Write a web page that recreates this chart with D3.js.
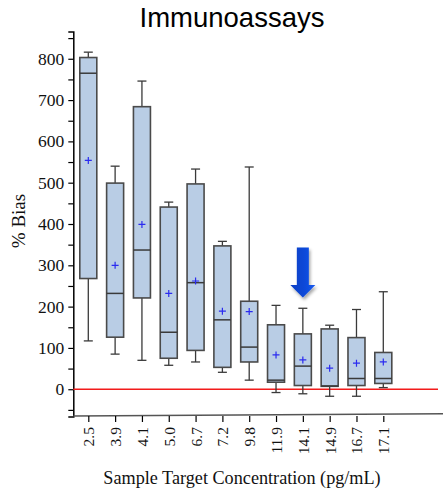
<!DOCTYPE html>
<html>
<head>
<meta charset="utf-8">
<script src="https://cdn.jsdelivr.net/npm/d3@7"></script>
<style>
  html, body { margin: 0; padding: 0; background: #fff; }
  svg { display: block; }
  .serif text, text.serif { font-family: "Liberation Serif", "Times New Roman", serif; }
</style>
</head>
<body>
<svg id="chart" width="443" height="494"></svg>
<script>
// Sample target concentrations (pg/mL), one box per concentration
const categories = ["2.5", "3.9", "4.1", "5.0", "6.7", "7.2", "9.8", "11.9", "14.1", "14.9", "16.7", "17.1"];
// % bias summaries per concentration
const whiskerLow  = [117,  85,  70,  58,  66,  41,  22,  -8, -11, -17, -17,   4];
const boxLow      = [268, 126, 221,  75,  94,  53,  66,  17,   9,   7,   9,  14];
const medians     = [765, 232, 337, 138, 258, 168, 102,  22,  56,   8,  26,  26];
const boxHigh     = [803, 499, 684, 441, 497, 347, 213, 156, 134, 146, 125,  89];
const whiskerHigh = [816, 540, 746, 453, 533, 358, 538, 203, 196, 155, 193, 236];
const means       = [554, 300, 399, 232, 262, 189, 188,  83,  71,  51,  63,  66];
// y axis ticks: minor every 50, labelled every 100
const yTicks = d3.range(-50, 851, 50);
const yLabels = d3.range(0, 801, 100);
// Highlighted concentration and the span of the pointer above it
const highlight = "14.1";
const pointerSpan = [343, 222];

const svg = d3.select("#chart");

const x = d3.scalePoint().domain(categories).range([88.3, 383.3]);
const y = d3.scaleLinear().domain([-66, 866]).range([416.5, 31.5]);

const plotLeft = 73.3, plotRight = 443;
const boxW = 17, capW = 9;
const serifFont = "Liberation Serif, Times New Roman, serif";

// Title
svg.append("text")
  .attr("x", 232).attr("y", 27)
  .attr("text-anchor", "middle")
  .attr("font-family", "Liberation Sans, Arial, sans-serif")
  .attr("font-size", 27.5)
  .attr("fill", "#000")
  .text("Immunoassays");

// Y axis
const yAxis = d3.axisLeft(y)
  .tickValues(yTicks)
  .tickSize(5)
  .tickPadding(4)
  .tickFormat(d => yLabels.includes(d) ? d : "");
const gy = svg.append("g").attr("class", "serif")
  .attr("transform", `translate(${plotLeft},0)`).call(yAxis)
  .attr("font-family", serifFont).attr("font-size", 17.5);
gy.select(".domain").attr("stroke", "#000").attr("stroke-width", 1.5);
gy.selectAll(".tick line").attr("stroke", "#000").attr("stroke-width", 1.2);
gy.selectAll(".tick text").attr("fill", "#111");

// Y axis title
svg.append("text").attr("class", "serif")
  .attr("transform", `translate(25,221) rotate(-90)`)
  .attr("text-anchor", "middle")
  .attr("font-size", 19)
  .attr("fill", "#111")
  .text("% Bias");

// X axis baseline
svg.append("line")
  .attr("x1", plotLeft).attr("y1", 416)
  .attr("x2", plotRight).attr("y2", 413.8)
  .attr("stroke", "#555").attr("stroke-width", 1.6);

// X axis ticks and labels
const xAxis = d3.axisBottom(x).tickSize(6).tickSizeOuter(0).tickPadding(6);
const gx = svg.append("g").attr("class", "serif")
  .attr("transform", "translate(0,416)").call(xAxis)
  .attr("font-family", serifFont).attr("font-size", 15.5);
gx.select(".domain").remove();
gx.selectAll(".tick line").attr("stroke", "#000").attr("stroke-width", 1.2);
gx.selectAll(".tick text")
  .attr("transform", "rotate(-90)")
  .attr("text-anchor", "end")
  .attr("x", -11).attr("y", 0).attr("dy", "0.35em")
  .attr("fill", "#111");

// X axis title
svg.append("text").attr("class", "serif")
  .attr("x", 242).attr("y", 484)
  .attr("text-anchor", "middle")
  .attr("font-size", 18.2)
  .attr("fill", "#111")
  .text("Sample Target Concentration (pg/mL)");

// Zero-bias reference line
svg.append("line")
  .attr("x1", plotLeft).attr("x2", 438)
  .attr("y1", y(0)).attr("y2", y(0))
  .attr("stroke", "#f21b1b").attr("stroke-width", 1.3);

// Box plots
const rows = categories.map((c, i) => ({
  c, lo: whiskerLow[i], q1: boxLow[i], med: medians[i],
  q3: boxHigh[i], hi: whiskerHigh[i], mean: means[i]
}));

const g = svg.append("g").selectAll("g").data(rows).join("g")
  .attr("transform", d => `translate(${x(d.c)},0)`);

const dark = "#3a3a3a";
// whiskers
g.append("line").attr("x1", 0).attr("x2", 0)
  .attr("y1", d => y(d.q3)).attr("y2", d => y(d.hi))
  .attr("stroke", dark).attr("stroke-width", 1.3);
g.append("line").attr("x1", 0).attr("x2", 0)
  .attr("y1", d => y(d.q1)).attr("y2", d => y(d.lo))
  .attr("stroke", dark).attr("stroke-width", 1.3);
// caps
g.append("line").attr("x1", -capW / 2).attr("x2", capW / 2)
  .attr("y1", d => y(d.hi)).attr("y2", d => y(d.hi))
  .attr("stroke", dark).attr("stroke-width", 1.3);
g.append("line").attr("x1", -capW / 2).attr("x2", capW / 2)
  .attr("y1", d => y(d.lo)).attr("y2", d => y(d.lo))
  .attr("stroke", dark).attr("stroke-width", 1.3);
// box
g.append("rect")
  .attr("x", -boxW / 2).attr("width", boxW)
  .attr("y", d => y(d.q3)).attr("height", d => y(d.q1) - y(d.q3))
  .attr("fill", "#b9cde5").attr("stroke", "#4a4a4a").attr("stroke-width", 1.6);
// median
g.append("line").attr("x1", -boxW / 2).attr("x2", boxW / 2)
  .attr("y1", d => y(d.med)).attr("y2", d => y(d.med))
  .attr("stroke", dark).attr("stroke-width", 1.5);
// mean marker
g.append("path")
  .attr("d", d => `M-3.5,${y(d.mean)}h7M0,${y(d.mean) - 3.5}v7`)
  .attr("stroke", "#2b2bf0").attr("stroke-width", 1.2);

// Pointer arrow above the highlighted concentration
const defs = svg.append("defs");
const grad = defs.append("linearGradient").attr("id", "arrowFill")
  .attr("x1", "0").attr("x2", "1").attr("y1", "0").attr("y2", "0");
grad.append("stop").attr("offset", "0%").attr("stop-color", "#0a3fc4");
grad.append("stop").attr("offset", "55%").attr("stop-color", "#0a48d8");
grad.append("stop").attr("offset", "100%").attr("stop-color", "#1a5cf0");
const shadow = defs.append("filter").attr("id", "arrowShadow")
  .attr("x", "-50%").attr("y", "-50%").attr("width", "200%").attr("height", "200%");
shadow.append("feDropShadow")
  .attr("dx", 1.5).attr("dy", 2.5).attr("stdDeviation", 1.6)
  .attr("flood-color", "#000").attr("flood-opacity", 0.35);

const arrowX = x(highlight), arrowTop = y(pointerSpan[0]), arrowTip = y(pointerSpan[1]);
const shaftHalf = 6, headHalf = 12.5, headLen = 12.5;
svg.append("path")
  .attr("d", `M${arrowX - shaftHalf},${arrowTop}H${arrowX + shaftHalf}V${arrowTip - headLen}H${arrowX + headHalf}L${arrowX},${arrowTip}L${arrowX - headHalf},${arrowTip - headLen}H${arrowX - shaftHalf}Z`)
  .attr("fill", "url(#arrowFill)")
  .attr("filter", "url(#arrowShadow)");
</script>
</body>
</html>
